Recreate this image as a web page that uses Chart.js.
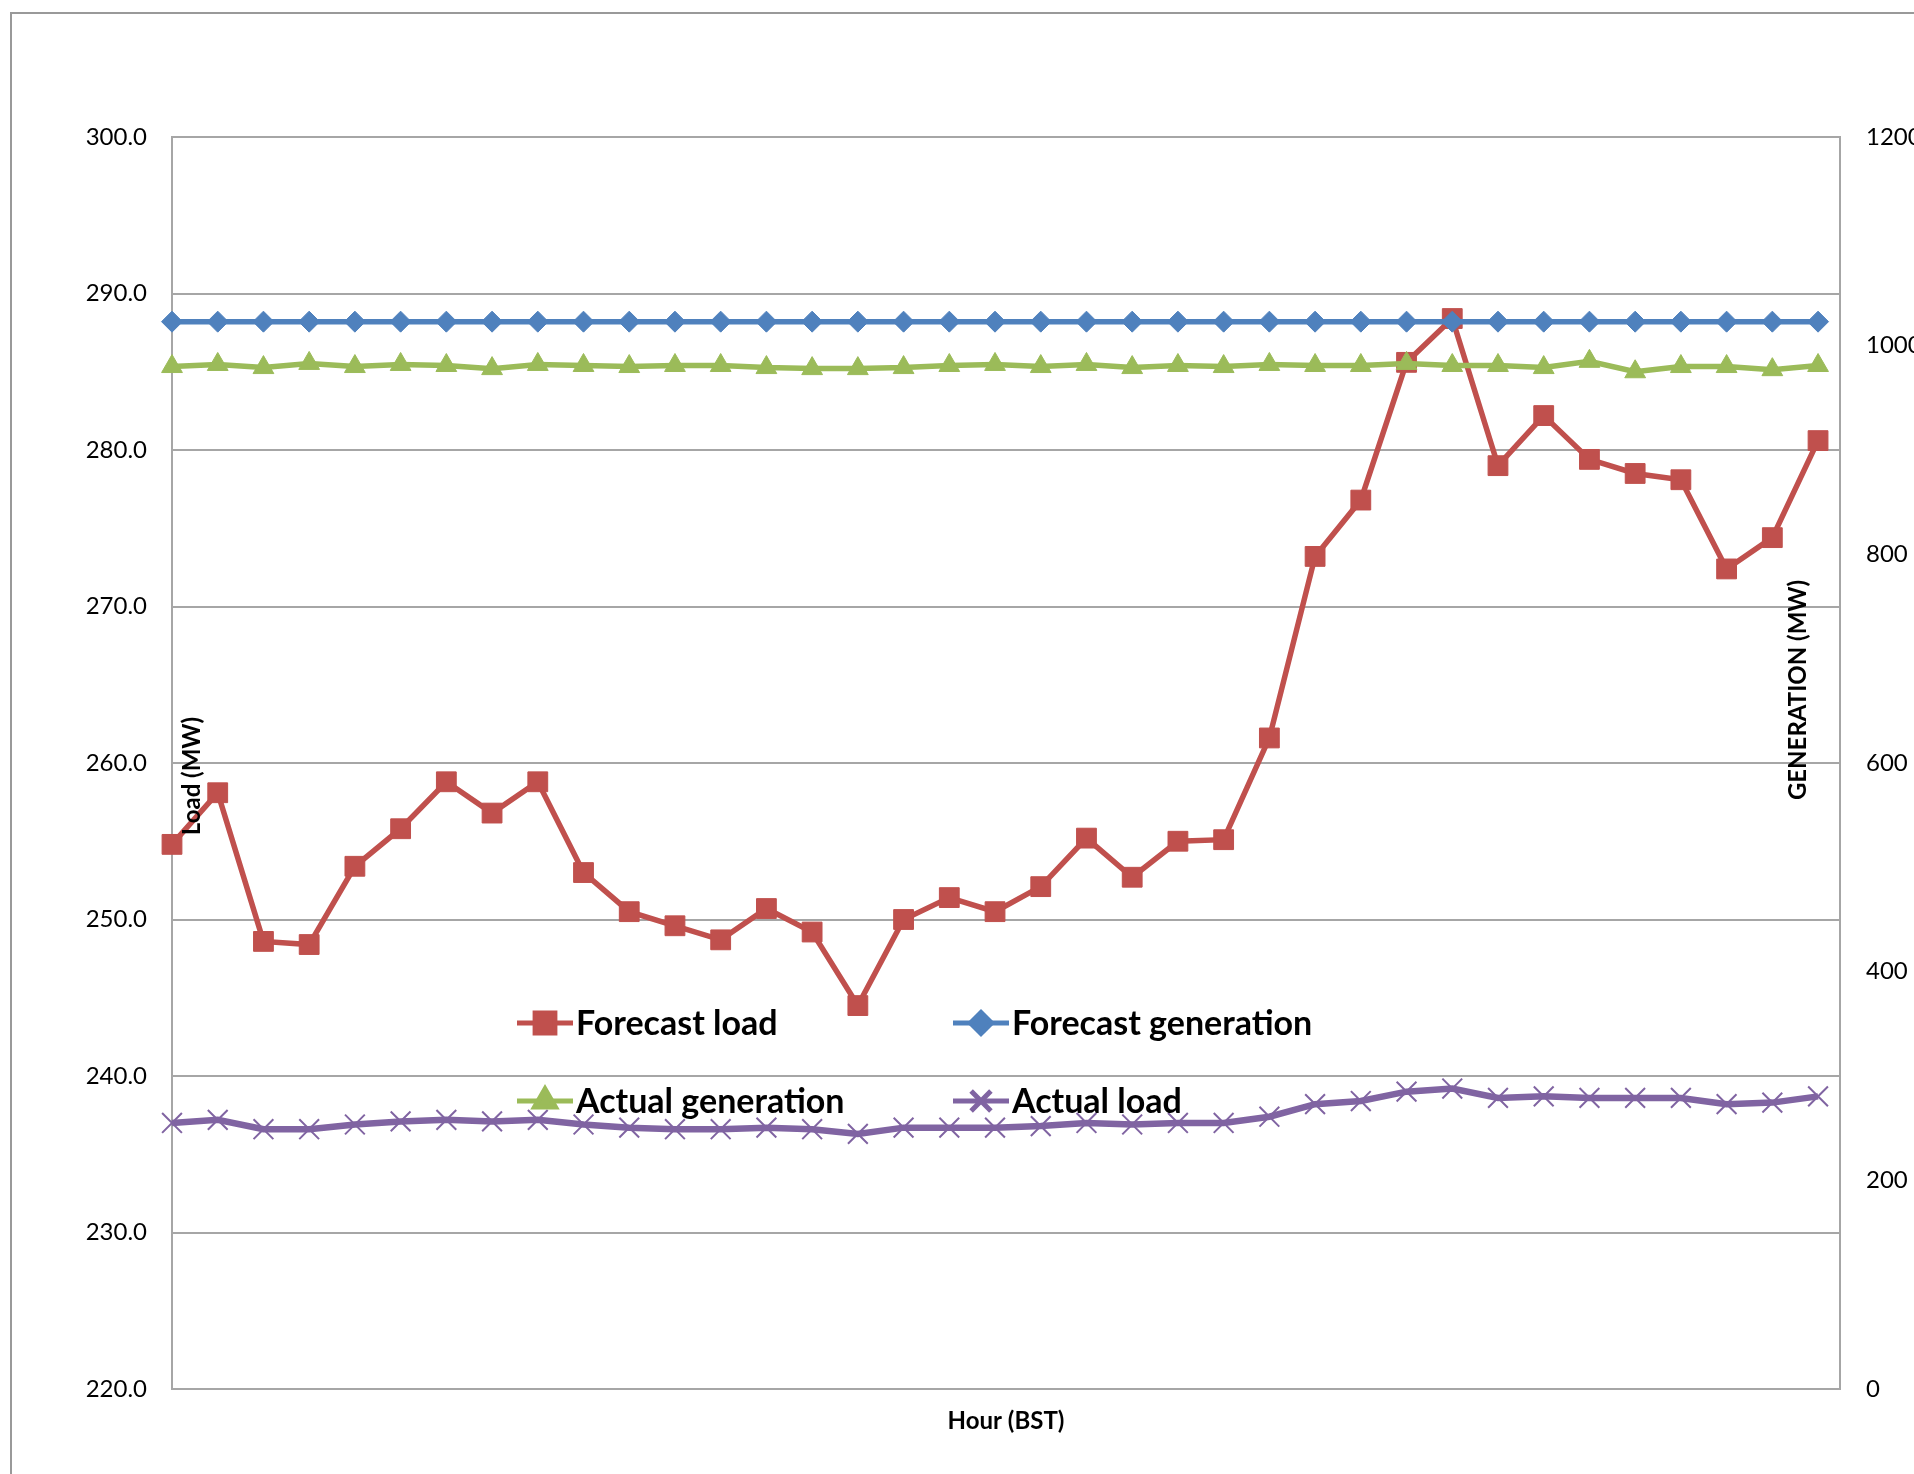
<!DOCTYPE html>
<html>
<head>
<meta charset="utf-8">
<script src="https://cdn.jsdelivr.net/npm/chart.js@4.4.1/dist/chart.umd.min.js"></script>
<style>
  html, body { margin: 0; padding: 0; background: #fff; overflow: hidden; width: 1914px; height: 1474px; }
  #frame { position: absolute; left: 10px; top: 12px; width: 2000px; height: 1470px; border-left: 2px solid #999; border-top: 2px solid #999; }
  #wrap { position: absolute; left: 0; top: 0; width: 1960px; height: 1474px; }
</style>
</head>
<body>
<div id="frame"></div>
<div id="wrap"><canvas id="loadChart"></canvas></div>
<script>
// Hour index along the (unlabelled) category axis
const hours = [0, 1, 2, 3, 4, 5, 6, 7, 8, 9, 10, 11, 12, 13, 14, 15, 16, 17, 18,
               19, 20, 21, 22, 23, 24, 25, 26, 27, 28, 29, 30, 31, 32, 33, 34, 35, 36];

// Left axis, Load (MW)
const forecastLoad = [254.8, 258.1, 248.6, 248.4, 253.4, 255.8, 258.8, 256.8, 258.8, 253.0,
                      250.5, 249.6, 248.7, 250.7, 249.2, 244.5, 250.0, 251.4, 250.5, 252.1,
                      255.2, 252.7, 255.0, 255.1, 261.6, 273.2, 276.8, 285.6, 288.4, 279.0,
                      282.2, 279.4, 278.5, 278.1, 272.4, 274.4, 280.6];
const actualLoad = [237.0, 237.2, 236.6, 236.6, 236.9, 237.1, 237.2, 237.1, 237.2, 236.9,
                    236.7, 236.6, 236.6, 236.7, 236.6, 236.3, 236.7, 236.7, 236.7, 236.8,
                    237.0, 236.9, 237.0, 237.0, 237.4, 238.2, 238.4, 239.0, 239.2, 238.6,
                    238.7, 238.6, 238.6, 238.6, 238.2, 238.3, 238.7];

// Right axis, GENERATION (MW)
const forecastGeneration = [1023, 1023, 1023, 1023, 1023, 1023, 1023, 1023, 1023, 1023,
                            1023, 1023, 1023, 1023, 1023, 1023, 1023, 1023, 1023, 1023,
                            1023, 1023, 1023, 1023, 1023, 1023, 1023, 1023, 1023, 1023,
                            1023, 1023, 1023, 1023, 1023, 1023, 1023];
const actualGeneration = [980, 982, 979, 983, 980, 982, 981, 978, 982, 981,
                          980, 981, 981, 979, 978, 978, 979, 981, 982, 980,
                          982, 979, 981, 980, 982, 981, 981, 983, 981, 981,
                          979, 985, 975, 980, 980, 977, 981];

const loadTicks = { min: 220, max: 300, step: 10 };
const genTicks = { min: 0, max: 1200, step: 200 };

const gridGrey = "#a6a6a6";

// Titles and the 2x2 legend sit inside the plot, as in the original sheet
const overlay = {
    id: "overlay",
    afterDatasetsDraw(chart) {
        const ctx = chart.ctx;
        const a = chart.chartArea;
        ctx.save();
        ctx.fillStyle = "#000";
        ctx.textBaseline = "middle";
        ctx.font = "bold 24px Lato";
        ctx.textAlign = "center";
        ctx.fillText("Hour (BST)", (a.left + a.right) / 2, a.bottom + 32);

        ctx.save();
        ctx.translate(a.left + 20, a.top + 639);
        ctx.rotate(-Math.PI / 2);
        ctx.fillText("Load (MW)", 0, 0);
        ctx.restore();

        ctx.save();
        ctx.translate(a.right - 42, a.top + 553);
        ctx.rotate(-Math.PI / 2);
        ctx.fillText("GENERATION (MW)", 0, 0);
        ctx.restore();

        // legend: [row, col] for each dataset
        const slots = [[0, 0], [0, 1], [1, 0], [1, 1]];
        const colX = [a.left + 373, a.left + 809];
        const rowY = [a.top + 886, a.top + 964];
        chart.data.datasets.forEach((ds, i) => {
            const cx = colX[slots[i][1]];
            const cy = rowY[slots[i][0]];
            ctx.strokeStyle = ds.borderColor;
            ctx.lineWidth = 5;
            ctx.beginPath();
            ctx.moveTo(cx - 28, cy);
            ctx.lineTo(cx + 28, cy);
            ctx.stroke();
            ctx.fillStyle = ds.pointBackgroundColor;
            ctx.strokeStyle = ds.pointBorderColor;
            Chart.helpers.drawPoint(ctx, {
                pointStyle: ds.pointStyle,
                radius: ds.pointRadius,
                borderWidth: ds.pointBorderWidth,
                rotation: 0
            }, cx, cy);
            ctx.fillStyle = "#000";
            ctx.textAlign = "left";
            ctx.font = "bold 34px Lato";
            ctx.fillText(ds.label, cx + 31, cy + 1);
        });
        ctx.restore();
    }
};

function series(label, values, color, style, radius, axis, order, width) {
    return {
        label: label,
        data: values,
        yAxisID: axis,
        order: order,
        borderColor: color,
        backgroundColor: color,
        borderWidth: width,
        pointStyle: style,
        pointRadius: radius,
        pointBackgroundColor: color,
        pointBorderColor: color,
        pointBorderWidth: style === "crossRot" ? 2 : 1,
        tension: 0,
        clip: false
    };
}

new Chart(document.getElementById("loadChart").getContext("2d"), {
    type: "line",
    data: {
        labels: hours,
        datasets: [
            series("Forecast load", forecastLoad, "#c0504d", "rect", 14, "y", 2, 5.5),
            series("Forecast generation", forecastGeneration, "#4f81bd", "rectRot", 10.5, "y1", 1, 5.5),
            series("Actual generation", actualGeneration, "#9bbb59", "triangle", 12, "y1", 1, 5.5),
            series("Actual load", actualLoad, "#8064a2", "crossRot", 14, "y", 1, 6.5)
        ]
    },
    options: {
        responsive: true,
        maintainAspectRatio: false,
        animation: false,
        layout: { padding: { top: 137, bottom: 85, left: 0, right: 0 } },
        plugins: { legend: { display: false }, tooltip: { enabled: false } },
        scales: {
            x: { type: "linear", display: false, min: 0, max: 36.48 },
            y: {
                position: "left",
                min: loadTicks.min,
                max: loadTicks.max,
                afterFit: s => { s.width = 172; },
                ticks: {
                    stepSize: loadTicks.step,
                    padding: 25,
                    color: "#000",
                    font: { family: "Lato", size: 24 },
                    callback: v => v.toFixed(1)
                },
                grid: { color: gridGrey, lineWidth: 2, drawTicks: false },
                border: { color: gridGrey, width: 2 }
            },
            y1: {
                position: "right",
                min: genTicks.min,
                max: genTicks.max,
                afterFit: s => { s.width = 120; },
                ticks: {
                    stepSize: genTicks.step,
                    padding: 26,
                    color: "#000",
                    font: { family: "Lato", size: 24 },
                    callback: v => String(v)
                },
                grid: { drawOnChartArea: false, drawTicks: false },
                border: { color: gridGrey, width: 2 }
            }
        }
    },
    plugins: [overlay]
});
</script>
</body>
</html>
